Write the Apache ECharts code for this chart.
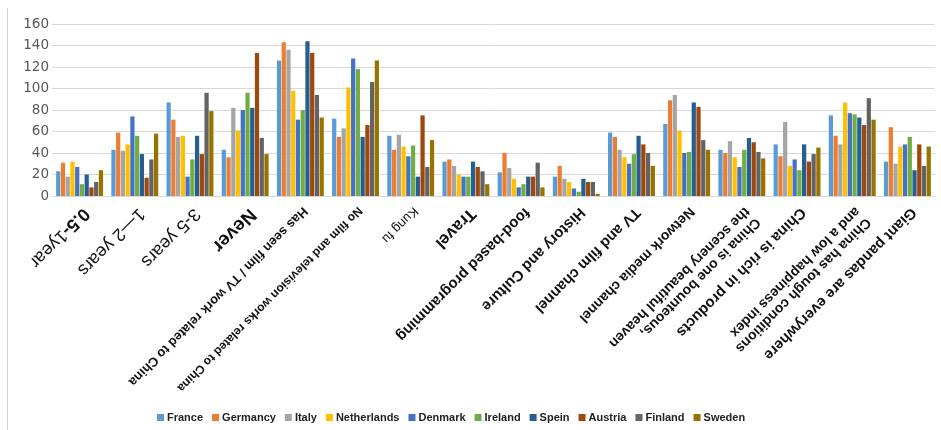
<!DOCTYPE html>
<html><head><meta charset="utf-8">
<script src="https://cdn.jsdelivr.net/npm/echarts@6/dist/echarts.min.js"></script>
<style>html,body{margin:0;padding:0;background:#fff}#c{width:941px;height:430px}</style>
</head><body><div id="c"></div>
<script>
const categories = [
  "0.5-1year", "1—2 years", "3-5 years", "Never",
  "Has seen film / TV work related to China",
  "No film and television works related to China",
  "Kung fu", "Travel", "food-based programming", "History and Culture",
  "TV and film channel", "Network media channel",
  "China is one bounteous,\nthe scenery beautiful heaven",
  "China is rich in products",
  "China has tough conditions\nand a low happiness index",
  "Giant pandas are everywhere"
];
const seriesNames = ["France", "Germancy", "Italy", "Netherlands", "Denmark", "Ireland", "Spein", "Austria", "Finland", "Sweden"];
const France      = [23, 43, 87, 43, 126, 72, 56, 32, 22, 18, 59, 67, 43, 48, 75, 32];
const Germancy    = [31, 59, 71, 36, 143, 55, 43, 34, 40, 28, 55, 89, 40, 37, 56, 64];
const Italy       = [18, 42, 55, 82, 136, 63, 57, 28, 26, 16, 43, 94, 51, 69, 48, 30];
const Netherlands = [32, 48, 56, 61, 98, 101, 46, 20, 16, 13, 36, 61, 36, 28, 87, 46];
const Denmark     = [27, 74, 18, 80, 71, 128, 37, 18, 8, 7, 30, 40, 27, 34, 77, 48];
const Ireland     = [11, 56, 34, 96, 80, 118, 47, 18, 11, 4, 39, 41, 43, 24, 76, 55];
const Spein       = [20, 39, 56, 82, 144, 55, 18, 32, 18, 16, 56, 87, 54, 48, 73, 24];
const Austria     = [8, 17, 39, 133, 133, 66, 75, 27, 18, 13, 48, 83, 50, 32, 66, 48];
const Finland     = [13, 34, 96, 54, 94, 106, 27, 23, 31, 13, 40, 52, 41, 39, 91, 28];
const Sweden      = [24, 58, 79, 39, 73, 126, 52, 11, 8, 2, 28, 43, 35, 45, 71, 46];
const yTicks = [0, 20, 40, 60, 80, 100, 120, 140, 160];

// label styling (font size, weight) per category position
const labelSizes  = [18, 18, 18, 19, 13, 12, 13, 17, 15, 15, 15, 14, 14, 15, 14, 15];
const labelBold   = [false, false, false, true, true, true, false, true, true, true, true, true, true, true, true, true];

const values = [France, Germancy, Italy, Netherlands, Denmark, Ireland, Spein, Austria, Finland, Sweden];
const colors = ["#5B9BD5", "#ED7D31", "#A5A5A5", "#FFC000", "#4472C4", "#70AD47", "#255E91", "#9E480E", "#636363", "#997300"];

const rich = {
  h0: { fontSize: 18, fontWeight: 'bold', color: '#111', fontFamily: 'Liberation Sans, Arial', lineHeight: 19 },
  t0: { fontSize: 18, fontWeight: 'normal', color: '#111', fontFamily: 'Liberation Sans, Arial', lineHeight: 19 }
};
labelSizes.forEach((s, i) => {
  rich['s' + i] = { fontSize: s, fontWeight: labelBold[i] ? 'bold' : 'normal', color: '#111',
    fontFamily: 'Liberation Sans, Arial', lineHeight: Math.round(s * 1.1) };
});

const chart = echarts.init(document.getElementById('c'));
chart.setOption({
  animation: false,
  color: colors,
  graphic: [{ type: 'line', shape: { x1: 7.5, y1: 8, x2: 7.5, y2: 430 }, style: { stroke: '#d0d0d0', lineWidth: 1 } }],
  grid: { left: 52, right: 6, top: 24, bottom: 234, containLabel: false },
  legend: {
    top: 407, left: 152, itemWidth: 7, itemHeight: 7, itemGap: 9, icon: 'rect',
    textStyle: { fontFamily: 'Liberation Sans Narrow, Liberation Sans, Arial', fontWeight: 'bold', fontSize: 11, color: '#222', padding: [0, 0, 0, -2] },
    data: seriesNames
  },
  xAxis: {
    type: 'category',
    data: categories,
    axisLine: { lineStyle: { color: '#d9d9d9' } },
    axisTick: { show: false },
    axisLabel: {
      interval: 0, rotate: -135, margin: 8, align: 'left', verticalAlign: 'bottom',
      formatter: (v, i) => i === 0 ? '{h0|0.5-}{t0|1year}' : v.split('\n').map(l => '{s' + i + '|' + l + '}').join('\n'),
      rich: rich
    }
  },
  yAxis: {
    type: 'value', min: yTicks[0], max: yTicks[yTicks.length - 1], interval: yTicks[1] - yTicks[0],
    axisLine: { show: false }, axisTick: { show: false },
    splitLine: { lineStyle: { color: '#d9d9d9', width: 1 } },
    axisLabel: { margin: 3, fontSize: 13.5, color: '#595959', fontFamily: 'DejaVu Sans, Arial' }
  },
  series: seriesNames.map((n, i) => ({
    name: n, type: 'bar', data: values[i], barGap: '12%', barCategoryGap: '15%'
  }))
});
</script></body></html>
